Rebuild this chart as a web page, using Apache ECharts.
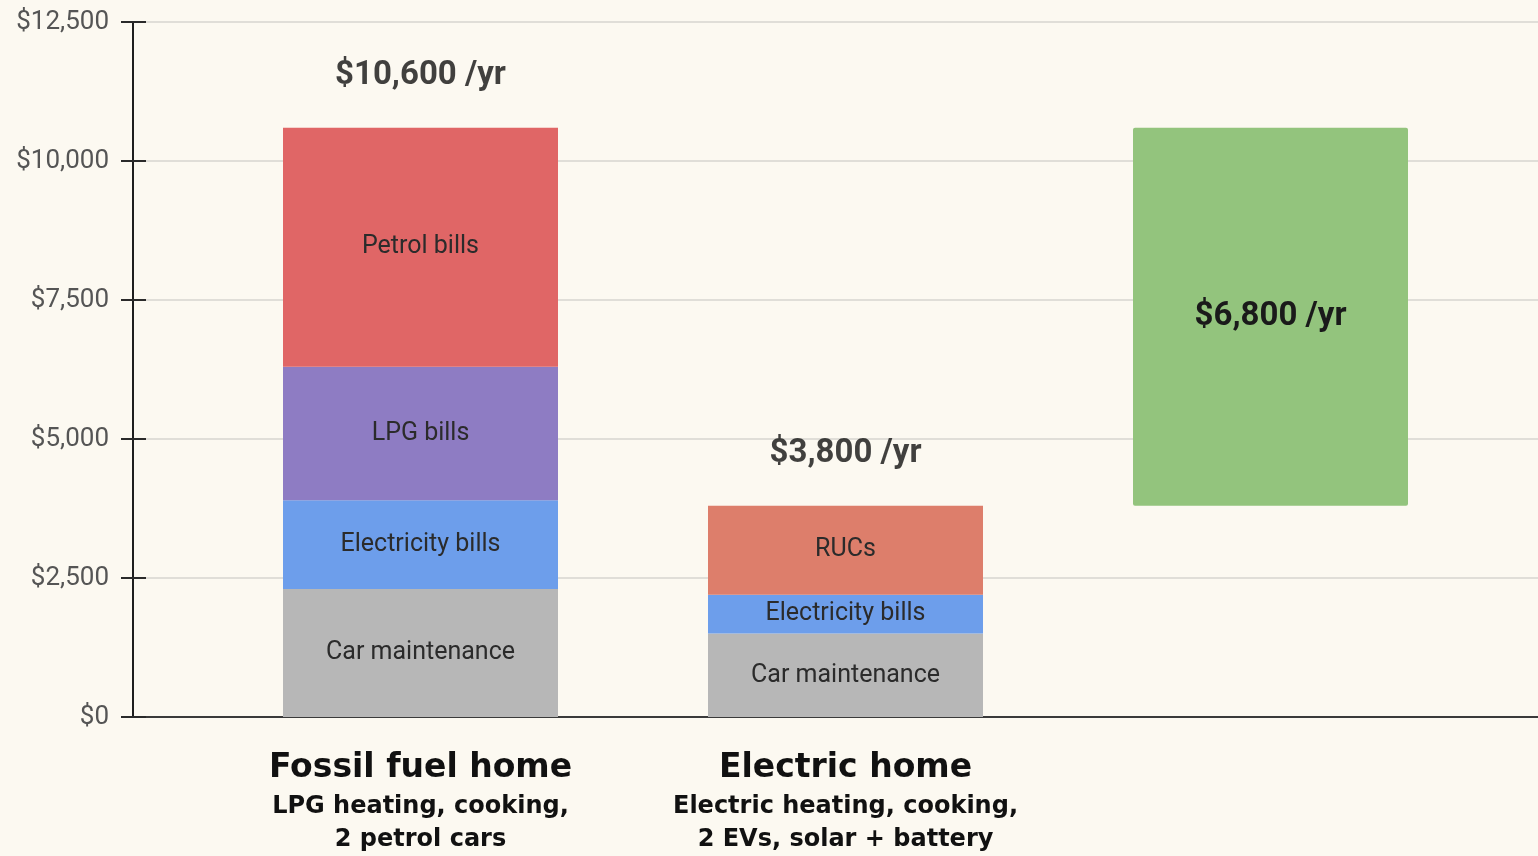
<!DOCTYPE html>
<html lang="en">
<head>
<meta charset="UTF-8">
<title>Home energy costs</title>
<style>
  html, body { margin: 0; padding: 0; background: #fcf9f1; }
  #main { width: 1538px; height: 856px; }
</style>
</head>
<body>
<div id="main"></div>
<script src="https://cdn.jsdelivr.net/npm/echarts@6/dist/echarts.min.js"></script>
<script>
// categories (third column is the savings bar)
var categories = ['fossil', 'electric', 'savings'];
var catTitles = ['Fossil fuel home', 'Electric home', ''];
var catSubs = ['LPG heating, cooking,\n2 petrol cars', 'Electric heating, cooking,\n2 EVs, solar + battery', ''];

// stacked costs per year ($)
var carMaintenance = [2300, 1500, '-'];
var electricityBills = [1600, 700, '-'];
var lpgBills = [2400, '-', '-'];
var petrolBills = [4300, '-', '-'];
var rucs = ['-', 1600, '-'];
var savingsBase = ['-', '-', 3800];
var savings = ['-', '-', 6800];

// totals printed above bars
var totals = [10600, 3800, '-'];

var yTicks = [0, 2500, 5000, 7500, 10000, 12500];

function money(v) {
  return '$' + v.toString().replace(/\B(?=(\d{3})+(?!\d))/g, ',');
}

var inLabel = {
  show: true,
  position: 'inside',
  formatter: '{a}',
  color: '#2b2b2b',
  fontFamily: 'Roboto',
  fontSize: 25
};

function seg(name, data, color) {
  return {
    name: name,
    type: 'bar',
    stack: 'cost',
    xAxisIndex: 1,
    yAxisIndex: 2,
    barWidth: 275,
    data: data,
    itemStyle: { color: color },
    label: inLabel
  };
}

var chart = echarts.init(document.getElementById('main'));

var option = {
  backgroundColor: '#fcf9f1',
  animation: false,
  grid: [
    { left: 133, right: 0, top: 22, bottom: 139 },
    { left: 208, width: 1275, top: 22, bottom: 139 }
  ],
  xAxis: [
    {
      gridIndex: 0,
      type: 'category',
      data: [''],
      axisLine: { lineStyle: { color: '#3a3a3a', width: 2 } },
      axisTick: { show: false },
      axisLabel: { show: false }
    },
    {
      gridIndex: 1,
      type: 'category',
      data: categories,
      axisLine: { show: false },
      axisTick: { show: false },
      axisLabel: {
        margin: 29,
        interval: 0,
        formatter: function (v, i) {
          if (!catTitles[i]) return '';
          return '{t|' + catTitles[i] + '}\n{s|' + catSubs[i].split('\n').join('}\n{s|') + '}';
        },
        rich: {
          t: { fontFamily: 'DejaVu Sans', fontWeight: 'bold', fontSize: 33, lineHeight: 44, color: '#111' },
          s: { fontFamily: 'DejaVu Sans', fontWeight: 'bold', fontSize: 24, lineHeight: 33, color: '#111' }
        }
      }
    }
  ],
  yAxis: [
    {
      gridIndex: 0,
      type: 'value',
      min: yTicks[0],
      max: yTicks[yTicks.length - 1],
      interval: 2500,
      axisLine: { show: true, lineStyle: { color: '#1e1e1e', width: 2 } },
      axisTick: { show: true, length: 12, lineStyle: { color: '#2a2a2a', width: 2 } },
      axisLabel: {
        margin: 24,
        color: '#555',
        fontFamily: 'Roboto',
        fontSize: 26,
        formatter: money
      },
      splitLine: { lineStyle: { color: '#e0ded8', width: 2 } }
    },
    {
      // inner half of the tick marks
      gridIndex: 0,
      type: 'value',
      min: yTicks[0],
      max: yTicks[yTicks.length - 1],
      interval: 2500,
      position: 'left',
      axisLine: { show: false },
      axisTick: { show: true, inside: true, length: 13, lineStyle: { color: '#2a2a2a', width: 2 } },
      axisLabel: { show: false },
      splitLine: { show: false }
    },
    {
      gridIndex: 1,
      type: 'value',
      min: yTicks[0],
      max: yTicks[yTicks.length - 1],
      interval: 2500,
      show: false
    }
  ],
  series: [
    seg('Car maintenance', carMaintenance, '#b7b7b7'),
    seg('Electricity bills', electricityBills, '#6d9eeb'),
    seg('LPG bills', lpgBills, '#8e7cc3'),
    seg('Petrol bills', petrolBills, '#e06666'),
    seg('RUCs', rucs, '#dd7e6b'),
    {
      name: 'base',
      type: 'bar',
      stack: 'cost',
      xAxisIndex: 1,
      yAxisIndex: 2,
      barWidth: 275,
      data: savingsBase,
      itemStyle: { color: 'transparent' },
      label: { show: false }
    },
    {
      name: 'Savings',
      type: 'bar',
      stack: 'cost',
      xAxisIndex: 1,
      yAxisIndex: 2,
      barWidth: 275,
      data: savings,
      itemStyle: { color: '#93c47d', borderRadius: 2 },
      label: {
        show: true,
        position: 'inside',
        formatter: function (p) { return money(p.value) + ' /yr'; },
        color: '#1a1a1a',
        fontFamily: 'Roboto',
        fontWeight: 'bold',
        fontSize: 33
      }
    },
    {
      name: 'Total',
      type: 'scatter',
      xAxisIndex: 1,
      yAxisIndex: 2,
      symbolSize: 0,
      data: totals,
      label: {
        show: true,
        position: 'top',
        distance: 35,
        formatter: function (p) { return money(p.value) + ' /yr'; },
        color: '#111',
        fontFamily: 'Roboto',
        fontWeight: 'bold',
        fontSize: 33
      }
    }
  ]
};

chart.setOption(option);
</script>
</body>
</html>
